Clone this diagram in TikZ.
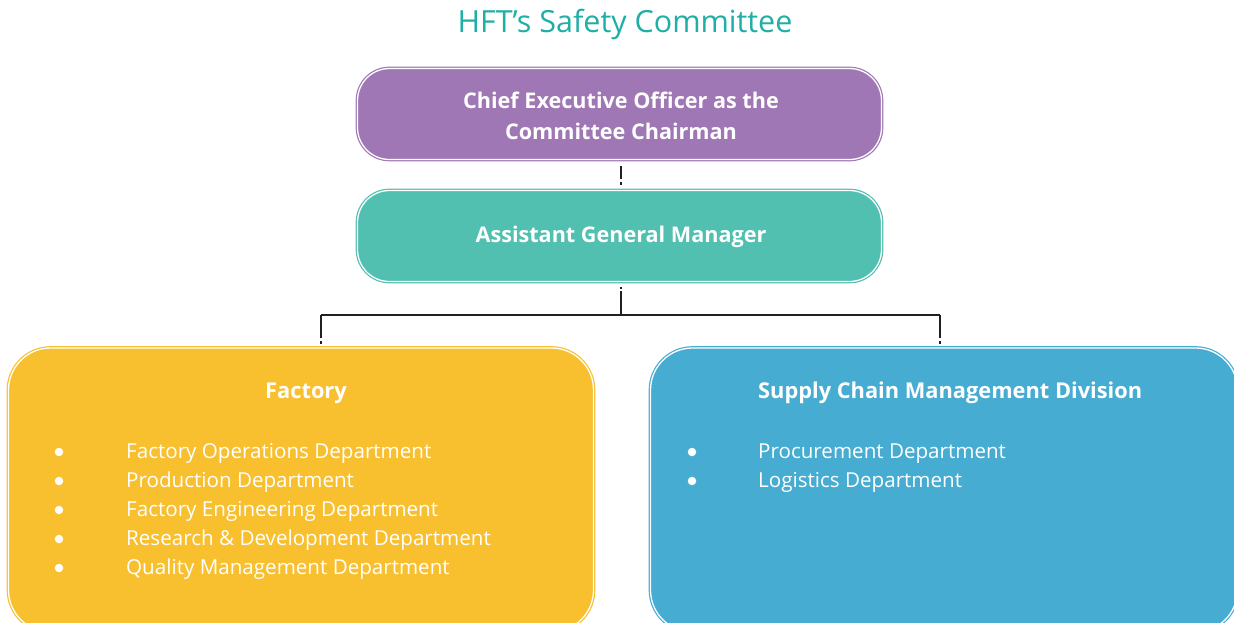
\documentclass[tikz,border=0pt]{standalone}
\usepackage{fontspec}
\setmainfont{Open Sans}
\definecolor{ceo}{HTML}{9F77B4}
\definecolor{agm}{HTML}{51C0B0}
\definecolor{fac}{HTML}{F8C02F}
\definecolor{scm}{HTML}{46ACD1}
\definecolor{ttl}{HTML}{1EAFA6}
\definecolor{lnk}{HTML}{231F20}
\tikzset{
  box/.style={rectangle, draw=#1, fill=#1, line width=1.2pt, double=white, double distance=1.3pt, inner sep=0pt},
  boldtxt/.style={text=white, font=\fontsize{21.6}{31}\selectfont\bfseries, align=center, inner sep=0pt},
  headtxt/.style={text=white, font=\fontsize{21.8}{24}\selectfont\bfseries, inner sep=0pt},
  itemtxt/.style={text=white, font=\fontsize{20.6}{24}\selectfont, inner sep=0pt, anchor=base west},
  bul/.style={circle, fill=white, inner sep=0pt, minimum size=8.5pt},
  link/.style={draw=lnk, line width=2.2pt},
}
\begin{document}
\begin{tikzpicture}[x=1pt,y=-1pt]
\useasboundingbox (0,0) rectangle (1234,622);
\clip (0,0) rectangle (1234,622);
\fill[white] (0,0) rectangle (1234,622);

\node[text=ttl, font=\fontsize{30.5}{34}\selectfont, inner sep=0pt] (title) at (625,24) {HFT’s Safety Committee};

\node[box=ceo, rounded corners=32pt, minimum width=524pt, minimum height=91pt] (ceobox) at (619.5,114) {};
\node[boldtxt] (ceotxt) at (621,116) {Chief Executive Officer as the\\Committee Chairman};

\node[box=agm, rounded corners=32pt, minimum width=524pt, minimum height=91pt] (agmbox) at (619.5,236) {};
\node[boldtxt] (agmtxt) at (621,237) {Assistant General Manager};

\node[box=fac, rounded corners=42pt, minimum width=585pt, minimum height=284pt] (facbox) at (301,490) {};
\node[box=scm, rounded corners=42pt, minimum width=587pt, minimum height=284pt] (scmbox) at (944,490) {};

\coordinate (hub) at (621,315);
\coordinate (lft) at (321,315);
\coordinate (rgt) at (940,315);

\draw[link, line width=1.6pt, dash pattern=on 13pt off 3pt on 3pt off 10pt] (ceobox.south -| hub) ++(0,6) -- ++(0,20);
\draw[link] (agmbox.south -| hub) ++(0,9) -- (hub);
\draw[link, line width=2pt] (agmbox.south -| hub) ++(0,5) -- ++(0,2);
\draw[link] (lft) -- (rgt);
\draw[link] (lft) -- ++(0,23);
\draw[link] (rgt) -- ++(0,23);
\draw[link, line width=2pt] (facbox.north -| lft) ++(0,-6) -- ++(0,3);
\draw[link, line width=2pt] (scmbox.north -| rgt) ++(0,-6) -- ++(0,3);

\node[headtxt] (fachead) at (306,393) {Factory};
\node[headtxt, anchor=west] (scmhead) at (758,393) {Supply Chain Management Division};

\foreach \t [count=\i] in {Factory Operations Department, Production Department, Factory Engineering Department, Research \& Development Department, Quality Management Department}{
  \node[bul] (fb\i) at (59, {452+29*(\i-1)}) {};
  \node[itemtxt] (fi\i) at (126, {458+29*(\i-1)}) {\t};
}
\foreach \t [count=\i] in {Procurement Department, Logistics Department}{
  \node[bul] (sb\i) at (692, {452+29*(\i-1)}) {};
  \node[itemtxt] (si\i) at (758, {458+29*(\i-1)}) {\t};
}
\end{tikzpicture}
\end{document}
